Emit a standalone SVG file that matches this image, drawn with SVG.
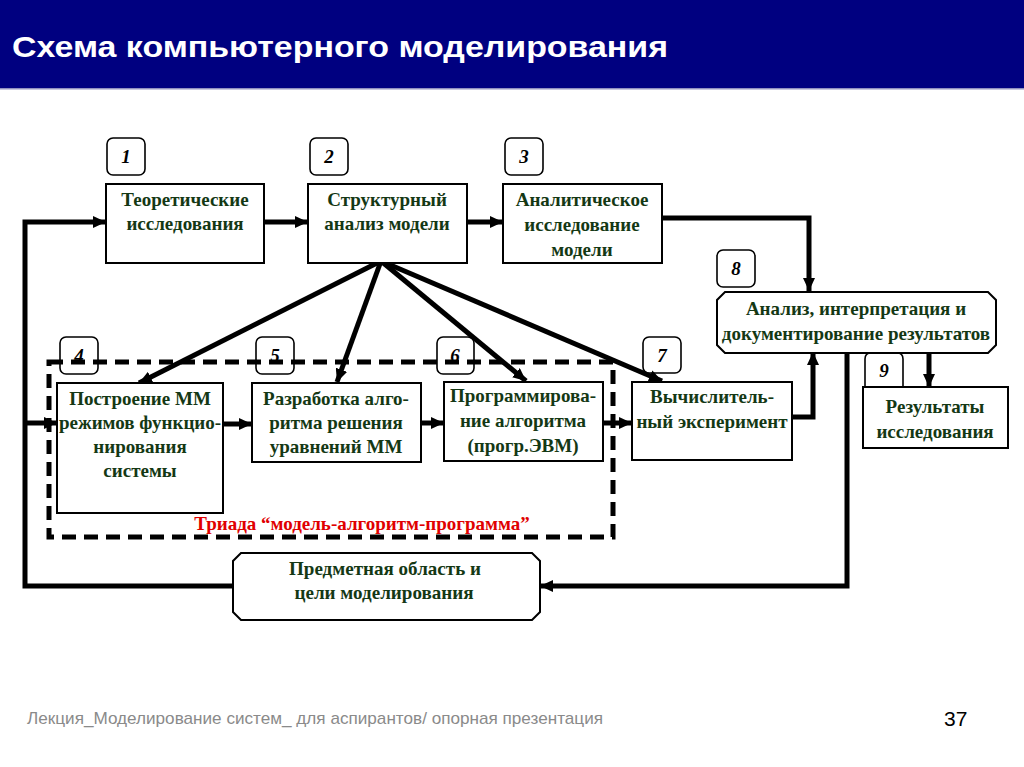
<svg xmlns="http://www.w3.org/2000/svg" width="1024" height="767" viewBox="0 0 1024 767">
<defs>
<marker id="ah" markerUnits="userSpaceOnUse" markerWidth="14" markerHeight="12" refX="13" refY="6" orient="auto">
<path d="M0,0 L13,6 L0,12 Z" fill="#000"/>
</marker>
<style>
.box{fill:#fff;stroke:#000;stroke-width:2}
.lbl{fill:none;stroke:#000;stroke-width:1.6}
.num{font-family:"Liberation Serif",serif;font-style:italic;font-weight:bold;font-size:19px;fill:#000;text-anchor:middle}
.t{font-family:"Liberation Serif",serif;font-weight:bold;font-size:19px;fill:#143814;text-anchor:middle}
.c{fill:none;stroke:#000;stroke-width:5}
.f{fill:none;stroke:#000;stroke-width:5}
</style>
</defs>
<rect width="1024" height="767" fill="#fff"/>
<g id="header">
<rect x="0" y="0" width="1024" height="88" fill="#000080"/>
<rect x="0" y="88" width="1024" height="1.5" fill="#8f8fc0"/>
<text x="12" y="57" font-family="Liberation Sans, Arial, sans-serif" font-weight="bold" font-size="30" fill="#fff" textLength="656" lengthAdjust="spacingAndGlyphs">Схема компьютерного моделирования</text>
</g>

<g id="triad">
<rect x="49" y="362" width="564" height="175" fill="none" stroke="#000" stroke-width="5" stroke-dasharray="14,8"/>
<text x="362" y="530" font-family="Liberation Serif, serif" font-weight="bold" font-size="19" fill="#e00000" text-anchor="middle">Триада “модель-алгоритм-программа”</text>
</g>

<g id="connectors">
<path class="c" d="M233,586 H25 V222 H106" marker-end="url(#ah)"/>
<path class="c" d="M25,423 H57" marker-end="url(#ah)"/>
<path class="c" d="M264,222 H308" marker-end="url(#ah)"/>
<path class="c" d="M467,222 H503" marker-end="url(#ah)"/>
<path class="c" d="M662,218 H809 V291" marker-end="url(#ah)"/>
<path class="c" d="M792,417 H813 V352" marker-end="url(#ah)"/>
<path class="c" d="M929,352 V387" marker-end="url(#ah)"/>
<path class="c" d="M847,352 V586 H540" marker-end="url(#ah)"/>
<path class="c" d="M223,424 H252" marker-end="url(#ah)"/>
<path class="c" d="M421,423 H444" marker-end="url(#ah)"/>
<path class="c" d="M603,423 H632" marker-end="url(#ah)"/>
<path class="f" d="M381,261 L139,383" marker-end="url(#ah)"/>
<path class="f" d="M381,261 L337,382" marker-end="url(#ah)"/>
<path class="f" d="M381,261 L526,381" marker-end="url(#ah)"/>
<path class="f" d="M381,261 L662,381" marker-end="url(#ah)"/>
</g>

<g id="n1">
<rect class="lbl" x="107" y="138" width="38" height="37" rx="6"/>
<text class="num" x="126" y="163">1</text>
<rect class="box" x="106" y="184" width="158" height="79"/>
<text class="t" x="185" y="206">Теоретические</text>
<text class="t" x="185" y="230">исследования</text>
</g>
<g id="n2">
<rect class="lbl" x="310" y="138" width="38" height="37" rx="6"/>
<text class="num" x="329" y="163">2</text>
<rect class="box" x="308" y="184" width="159" height="79"/>
<text class="t" x="387" y="206">Структурный</text>
<text class="t" x="387" y="230">анализ модели</text>
</g>
<g id="n3">
<rect class="lbl" x="505" y="138" width="38" height="37" rx="6"/>
<text class="num" x="524" y="163">3</text>
<rect class="box" x="503" y="184" width="159" height="79"/>
<text class="t" x="582" y="206">Аналитическое</text>
<text class="t" x="582" y="231">исследование</text>
<text class="t" x="582" y="256">модели</text>
</g>
<g id="n8">
<rect class="lbl" x="717" y="250" width="38" height="37" rx="6"/>
<text class="num" x="736" y="275">8</text>
<path class="box" d="M725,292 H988 L996,300 V345 L988,353 H725 L717,345 V300 Z"/>
<text class="t" x="856" y="315">Анализ, интерпретация и</text>
<text class="t" x="856" y="340">документирование результатов</text>
</g>
<g id="n9">
<path class="lbl" d="M865,387 V359 Q865,353 871,353 H897 Q903,353 903,359 V387"/>
<text class="num" x="884" y="377">9</text>
<rect class="box" x="863" y="387" width="145" height="61"/>
<text class="t" x="935" y="413">Результаты</text>
<text class="t" x="935" y="438">исследования</text>
</g>
<g id="n4">
<rect class="lbl" x="60" y="337" width="38" height="37" rx="6"/>
<text class="num" x="79" y="362">4</text>
<rect class="box" x="57" y="383" width="166" height="130"/>
<text class="t" x="140" y="405">Построение ММ</text>
<text class="t" x="140" y="429">режимов функцио-</text>
<text class="t" x="140" y="453">нирования</text>
<text class="t" x="140" y="477">системы</text>
</g>
<g id="n5">
<rect class="lbl" x="256" y="337" width="38" height="37" rx="6"/>
<text class="num" x="275" y="362">5</text>
<rect class="box" x="252" y="383" width="169" height="79"/>
<text class="t" x="336" y="405">Разработка алго-</text>
<text class="t" x="336" y="429">ритма решения</text>
<text class="t" x="336" y="453">уравнений ММ</text>
</g>
<g id="n6">
<rect class="lbl" x="437" y="337" width="37" height="37" rx="6"/>
<text class="num" x="455" y="362">6</text>
<rect class="box" x="444" y="382" width="159" height="79"/>
<text class="t" x="523" y="402">Программирова-</text>
<text class="t" x="523" y="427">ние алгоритма</text>
<text class="t" x="523" y="452">(прогр.ЭВМ)</text>
</g>
<g id="n7">
<rect class="lbl" x="643" y="337" width="38" height="36" rx="6"/>
<text class="num" x="662" y="362">7</text>
<rect class="box" x="632" y="382" width="160" height="78"/>
<text class="t" x="712" y="403">Вычислитель-</text>
<text class="t" x="712" y="428">ный эксперимент</text>
</g>
<g id="n10">
<path class="box" d="M241,553 H532 L540,561 V612 L532,620 H241 L233,612 V561 Z"/>
<text class="t" x="385" y="575" textLength="192" lengthAdjust="spacingAndGlyphs">Предметная область и</text>
<text class="t" x="384" y="599" textLength="179" lengthAdjust="spacingAndGlyphs">цели моделирования</text>
</g>

<g id="footer">
<text x="27" y="724" font-family="Liberation Sans, Arial, sans-serif" font-size="17" fill="#8a8a8a" textLength="576" lengthAdjust="spacingAndGlyphs">Лекция_Моделирование систем_ для аспирантов/ опорная презентация</text>
<text x="944" y="726" font-family="Liberation Sans, Arial, sans-serif" font-size="21" fill="#000">37</text>
</g>
</svg>
